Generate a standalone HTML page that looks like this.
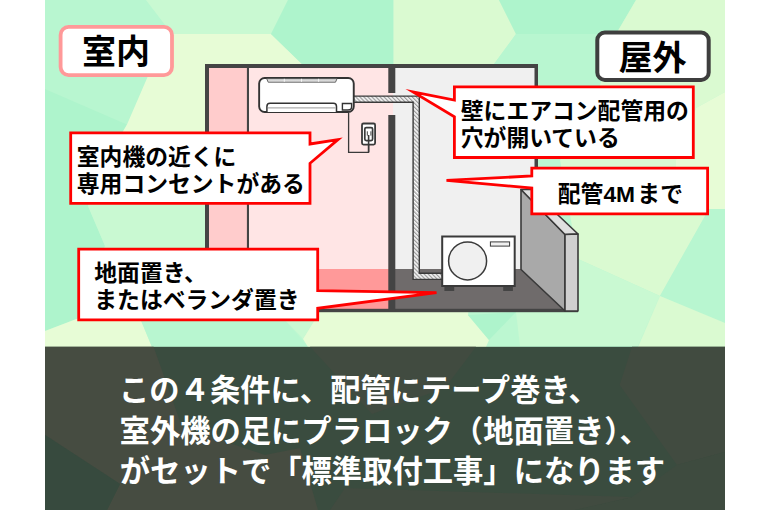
<!DOCTYPE html>
<html><head><meta charset="utf-8"><title>標準取付工事</title>
<style>
html,body{margin:0;padding:0;background:#fff;font-family:"Liberation Sans",sans-serif;}
svg{display:block}
svg text{font-family:"Liberation Sans","Noto Sans CJK JP",sans-serif;font-weight:bold;}
</style></head><body>
<svg role="img" aria-label="エアコン標準取付工事の４条件" width="770" height="510" viewBox="0 0 770 510">
<defs>
<clipPath id="cp"><rect x="45" y="0" width="680" height="510"/></clipPath>
<pattern id="hatch" width="2.85" height="2.85" patternUnits="userSpaceOnUse" patternTransform="rotate(-45)">
<rect width="2.85" height="2.85" fill="#fff"/><rect width="1.35" height="2.85" fill="#9c9c9c"/></pattern>
<linearGradient id="vg" x1="0" y1="0" x2="0" y2="1"><stop offset="0" stop-color="#c0c0c0"/><stop offset="1" stop-color="#f0f0f0"/></linearGradient>
</defs>
<rect width="770" height="510" fill="#fff"/>
<g clip-path="url(#cp)">

<rect x="45" y="0" width="680" height="347" fill="#bcf7d1"/>
<polygon points="45,0 146,0 172,34 148,76 127,124.5 45,89" fill="#b8f6d0" />
<polygon points="45,89 127,124.5 88,206 105,246 79,318 45,331" fill="#aef4cc" />
<polygon points="146,0 288,0 271,34 172,34" fill="#c9f9d2" />
<polygon points="172,34 271,34 302,64 302,170 100,170 127,124.5 148,76" fill="#e7fcd6" />
<polygon points="100,170 302,170 302,300 86,300 105,246 88,206" fill="#c9f9d2" />
<polygon points="288,0 393.5,0 393.5,70 302,64 271,34" fill="#aef4cc" />
<polygon points="393.5,0 499,0 516,34 494,64 393.5,70" fill="#dafad1" />
<polygon points="499,0 636,0 616,34 516,34" fill="#aef4cc" />
<polygon points="516,34 616,34 600,85 600,120 494,64" fill="#b8f6d0" />
<polygon points="636,0 725,0 725,92 696,108 676,160 676,215 709,209 660,296 578,259 560,160 600,120 600,85 616,34" fill="#dafad1" />
<polygon points="725,92 696,108 676,160 676,215 709,209 725,209" fill="#e7fcd6" />
<polygon points="709,209 725,209 725,323 660,296" fill="#b8f6d0" />
<polygon points="578,259 660,296 638,346 520,346 516,312" fill="#c9f9d2" />
<polygon points="660,296 725,323 725,347 638,347" fill="#dafad1" />
<polygon points="45,331 79,318 140,318 152,347 45,347" fill="#e7fcd6" />
<polygon points="140,318 283,318 308,347 152,347" fill="#b8f6d0" />
<polygon points="283,318 316,318 303,339" fill="#c9f9d2" />
<polygon points="308,347 303,339 316,318 316,300 470,300 468,315 489,340 486,347" fill="#e7fcd6" />
<polygon points="468,315 516,312 489,340" fill="#aef4cc" />
<rect x="45" y="346.8" width="680" height="164" fill="#3a4c3f"/>
<polygon points="45,346.8 153.6,346.8 182,427 265,455 300,448 318,510 107,510 120,484 45,435" fill="#464c41" />
<polygon points="45,435 120,484 107,510 45,510" fill="#374a3e" />
<polygon points="310,346.8 476,346.8 445,388 372,414" fill="#414b40" />
<polygon points="632,346.8 725,346.8 725,452 677,465 619.6,385" fill="#414b40" />
<polygon points="677,465 725,452 725,510 575,510 632,497" fill="#3e4b3f" />
<polygon points="330,510 345,488 632,497 575,510" fill="#414b40" />
</g>
<g>
<rect x="209" y="68" width="40" height="202" fill="#ffcccc"/>
<rect x="248" y="68" width="145" height="202" fill="#ffe5e5"/>
<rect x="393" y="68" width="142" height="202" fill="#f0f0f0"/>
<rect x="209" y="269" width="183" height="40" fill="#ff9999"/>
<polygon points="392,269 521,269 565,309.5 392,309.5" fill="#6f6b6b" />
<rect x="246.9" y="68" width="2.1" height="202" fill="#444"/>
<rect x="205" y="64" width="4" height="248" fill="#444"/>
<rect x="205" y="64" width="333" height="4" fill="#444"/>
<rect x="534.5" y="64" width="3.5" height="140" fill="#444"/>
<rect x="205" y="308.8" width="373" height="3.4" fill="#444"/>
<rect x="388.3" y="66" width="7" height="27" fill="#444"/>
<rect x="388.3" y="115" width="7" height="196" fill="#444"/>
<polygon points="521,189.5 565,234.5 565,311 521,269.5" fill="#a9a9a9" stroke="#3a3a3a" stroke-width="1.6" stroke-linejoin="round"/>
<polygon points="521,189.5 531,189.5 578,234 565,234.5" fill="#e0e0e0" stroke="#3a3a3a" stroke-width="1.6" stroke-linejoin="round"/>
<polygon points="565,234.5 578,234 578,311 565,311" fill="#d0d0d0" stroke="#3a3a3a" stroke-width="1.6" stroke-linejoin="round"/>
<path d="M354,99.2 H416.2 V276.3 H442" fill="none" stroke="#3a3a3a" stroke-width="7.6"/>
<path d="M354,99.2 H416.2 V276.3 H442" fill="none" stroke="url(#hatch)" stroke-width="4.8"/>
<rect x="259.15" y="77.95" width="94.6" height="34" rx="5.5" ry="5.5" fill="#fff" stroke="#333" stroke-width="1.9"/>
<path d="M266.7,78.7 H337 L335.5,82.2 H268.2 Z" fill="url(#vg)"/>
<path d="M266.7,78.7 L268.2,82.2 H335.5 L337,78.7" fill="none" stroke="#555" stroke-width="0.9"/>
<rect x="283.8" y="78.8" width="1" height="3" fill="#f4f4f4"/>
<rect x="301" y="78.8" width="1" height="3" fill="#f4f4f4"/>
<rect x="318.1" y="78.8" width="1" height="3" fill="#f4f4f4"/>
<path d="M266.9,112 V106.4 Q266.9,103.3 270,103.3 H333.4 Q336.5,103.3 336.5,106.4 V112" fill="#fff" stroke="#333" stroke-width="1.5"/>
<rect x="268" y="107.4" width="67.5" height="1" fill="#999"/>
<path d="M342.4,103.5 H351.6 V106.8 Q351.6,110 348,110 H342.4 Z" fill="#fff" stroke="#333" stroke-width="1.4"/>
<path d="M348.6,113 V152.3 H368.6 V138" fill="none" stroke="#3a3a3a" stroke-width="1.3"/>
<rect x="362" y="123.5" width="13.1" height="21.1" rx="1.5" fill="#fff" stroke="#3a3a3a" stroke-width="1.8"/>
<rect x="364.8" y="127.6" width="7.8" height="13" rx="1.5" fill="#fff" stroke="#3a3a3a" stroke-width="1.7"/>
<rect x="366.8" y="131.3" width="1" height="4.3" fill="#444"/><rect x="370.4" y="131.3" width="1" height="4.3" fill="#444"/>
<path d="M368.6,135 V152" stroke="#3a3a3a" stroke-width="1.6" fill="none"/>
<rect x="444.4" y="286" width="9.8" height="5" fill="#444"/><rect x="503.2" y="286" width="9.7" height="5" fill="#444"/>
<rect x="442.2" y="236.5" width="72.5" height="49.5" fill="#fff" stroke="#3a3a3a" stroke-width="2"/>
<circle cx="467.6" cy="260.9" r="19" fill="#f0f0f0" stroke="#3a3a3a" stroke-width="1.5"/>
<rect x="490.4" y="241.9" width="19.2" height="4.2" fill="#f0f0f0" stroke="#3a3a3a" stroke-width="1"/>
</g>
<rect x="60.6" y="26.9" width="111.4" height="48.2" rx="8" fill="#fff" stroke="#ff9999" stroke-width="3.8"/>
<rect x="597.3" y="32.6" width="111.4" height="47.3" rx="7.5" fill="#fff" stroke="#3e3e3e" stroke-width="4"/>
<text x="82" y="64.2" font-size="34" fill="#000">室内</text>
<text x="618.5" y="69.9" font-size="34" fill="#000">屋外</text>
<polygon points="70.7,132.9 310,132.9 310,144 338,139.6 310,163.3 310,203.3 70.7,203.3" fill="#fff" stroke="#ff0000" stroke-width="2.8" stroke-linejoin="miter" stroke-miterlimit="10"/>
<polygon points="454.4,86.8 693.3,86.8 693.3,157.5 454.4,157.5 454.4,116.8 413,92 454.4,100" fill="#fff" stroke="#ff0000" stroke-width="2.8" stroke-linejoin="miter" stroke-miterlimit="10"/>
<polygon points="531.8,168.2 707.6,168.2 707.6,213.8 531.8,213.8 531.8,188 446.5,180.4 531.8,176" fill="#fff" stroke="#ff0000" stroke-width="2.8" stroke-linejoin="miter" stroke-miterlimit="10"/>
<polygon points="78.7,249.2 317.7,249.2 317.7,290.6 436.5,292.7 317.7,308.3 317.7,319.8 78.7,319.8" fill="#fff" stroke="#ff0000" stroke-width="2.8" stroke-linejoin="miter" stroke-miterlimit="10"/>
<text x="76.8" y="164.6" font-size="22.8" fill="#000">室内機の近くに</text>
<text x="76.8" y="191.9" font-size="22.8" fill="#000">専用コンセントがある</text>
<text x="460.8" y="118.8" font-size="22.8" fill="#000">壁にエアコン配管用の</text>
<text x="460.8" y="146" font-size="22.8" fill="#000">穴が開いている</text>
<text x="557.8" y="202.1" font-size="22.8" fill="#000">配管4M</text>
<text x="637.36" y="202.1" font-size="22.8" fill="#000">まで</text>
<text x="94.3" y="281.1" font-size="22.8" fill="#000">地面置き、</text>
<text x="94.3" y="308.4" font-size="22.8" fill="#000">またはベランダ置き</text>
<text x="119" y="401.2" font-size="30.3" fill="#fff">この４条件に、配管にテープ巻き、</text>
<text x="119.6" y="441.7" font-size="30.3" fill="#fff">室外機の足にプラロック（地面置き）、</text>
<text x="119.8" y="482.2" font-size="30.3" fill="#fff">がセットで「標準取付工事」になります</text>
</svg></body></html>
